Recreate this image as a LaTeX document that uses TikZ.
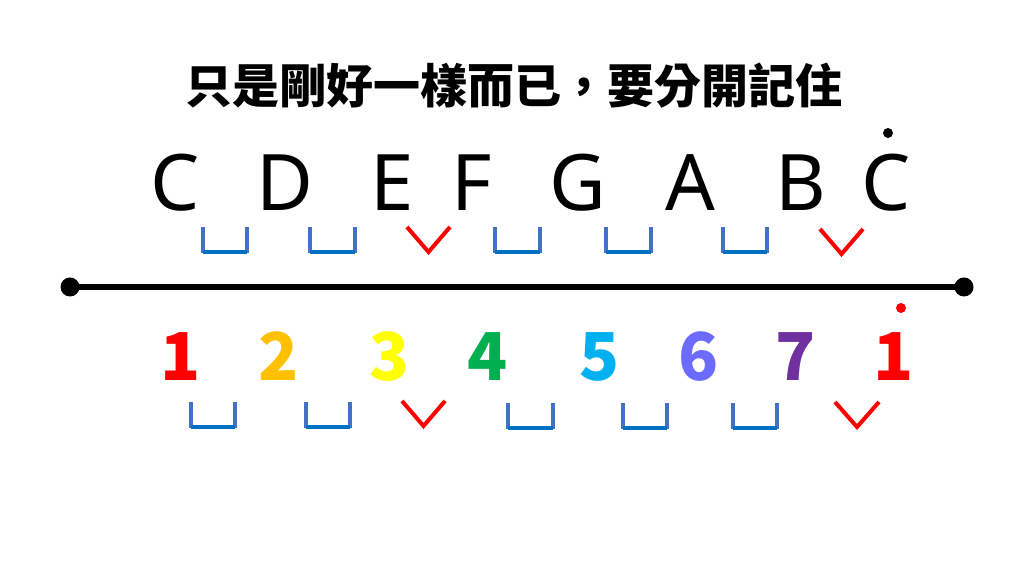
\documentclass[tikz,border=0pt]{standalone}
\usepackage{fontspec}
\setmainfont{Noto Sans}
\newfontfamily\cjk{Noto Sans CJK TC}
\usepackage{tikz}

\definecolor{wholeside}{HTML}{4472C4}
\definecolor{wholebase}{HTML}{0070C0}
\definecolor{nred}{HTML}{FF0000}
\definecolor{norange}{HTML}{FFC000}
\definecolor{nyellow}{HTML}{FFFF00}
\definecolor{ngreen}{HTML}{00B050}
\definecolor{ncyan}{HTML}{00B0F0}
\definecolor{nblue}{HTML}{6B6BFF}
\definecolor{npurple}{HTML}{7030A0}

\tikzset{
	letter/.style={anchor=base,inner sep=0pt,font=\fontsize{39}{39}\selectfont},
	numeral/.style={anchor=base,inner sep=0pt,font=\cjk\bfseries\fontsize{33}{33}\selectfont},
	halfmark/.style={nred,line width=2pt},
}

% whole step: open box, half step: red V
\newcommand{\wholemark}[3]{
	\draw[wholeside,line width=2pt] (#1,#3) -- (#1,#3+26);
	\draw[wholeside,line width=2pt] (#2,#3) -- (#2,#3+26);
	\draw[wholebase,line width=2pt] (#1,#3+25) -- (#2,#3+25);
}
\newcommand{\halfmark}[3]{
	\draw[halfmark] (#1,#3) -- ({(#1+#2)/2},#3+25) -- (#2,#3);
}

\begin{document}
\begin{tikzpicture}[x=0.5pt,y=-0.5pt]
		\useasboundingbox (0,0) rectangle (1024,576);
		\node[inner sep=0pt,font=\cjk\bfseries\fontsize{23.5}{23.5}\selectfont] (title) at (514,86) {只是剛好一樣而已，要分開記住};

		% letter names
		\node[letter] (c) at (175,211) {C};
		\node[letter] (d) at (285,211) {D};
		\node[letter] (e) at (392,211) {E};
		\node[letter] (f) at (472,211) {F};
		\node[letter] (g) at (578,211) {G};
		\node[letter] (a) at (690,211) {A};
		\node[letter] (b) at (801,211) {B};
		\node[letter] (hc) at (886,211) {C};
		\fill (888,133) circle [radius=5];

		\wholemark{203}{247}{227}
		\wholemark{310}{355}{227}
		\halfmark{407}{450}{227}
		\wholemark{495}{540}{227}
		\wholemark{606}{651}{227}
		\wholemark{723}{767}{227}
		\halfmark{820}{863}{229}

		% staff line
		\draw[line width=3pt] (70,287) -- (964,287);
		\fill (70,287) circle [radius=9.5];
		\fill (964,287) circle [radius=9.5];

		% numbers
		\node[numeral,text=nred] (one) at (181,381) {1};
		\node[numeral,text=norange] (two) at (279,381) {2};
		\node[numeral,text=nyellow] (three) at (390,381) {3};
		\node[numeral,text=ngreen] (four) at (488,381) {4};
		\node[numeral,text=ncyan] (five) at (600,381) {5};
		\node[numeral,text=nblue] (six) at (699,381) {6};
		\node[numeral,text=npurple] (seven) at (796,381) {7};
		\node[numeral,text=nred] (hone) at (894,381) {1};
		\fill[nred] (901,308) circle [radius=5];

		\wholemark{191}{235}{402}
		\wholemark{306}{350}{402}
		\halfmark{402}{445}{401}
		\wholemark{508}{553}{403}
		\wholemark{623}{667}{403}
		\wholemark{733}{777}{403}
		\halfmark{835}{879}{402}
	\end{tikzpicture}
\end{document}
